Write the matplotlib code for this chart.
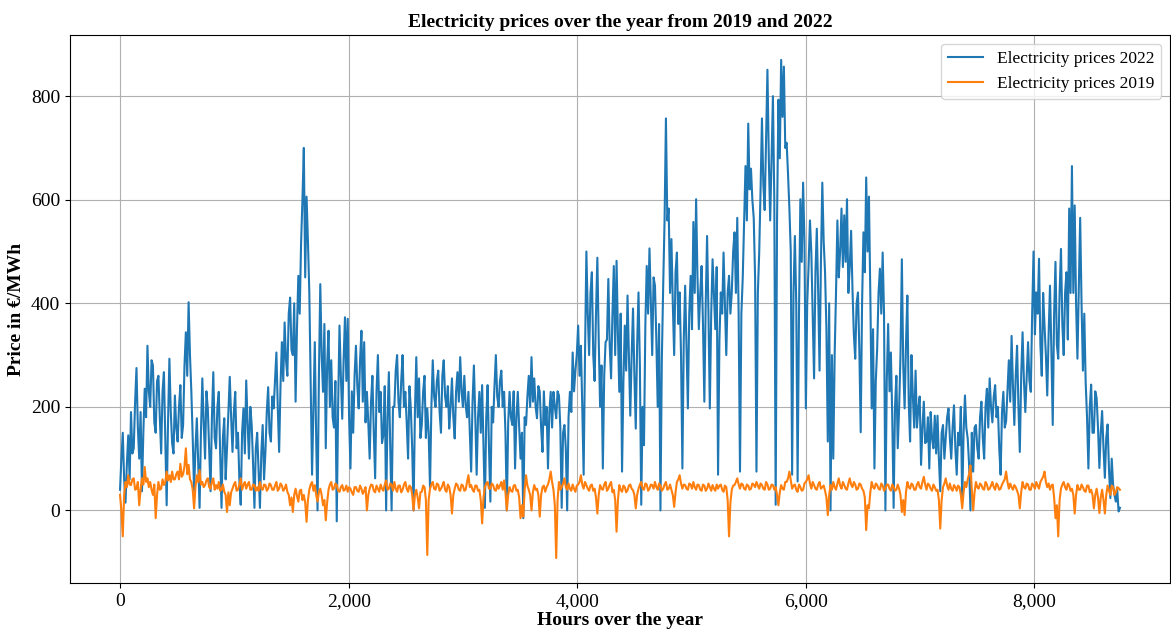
import numpy as np
import matplotlib
matplotlib.use("Agg")
import matplotlib.pyplot as plt
from matplotlib.ticker import FuncFormatter

# Values: one value at the start of each day
# (hour 24*d) and one at mid-day (hour 24*d + 12).
price_2022_day = [
    40, 150, 15, 145, 190, 120, 275, 100, 37, 235,
    318, 200, 280, 150, 260, 110, 267, 10, 293, 130,
    222, 133, 242, 165, 344, 402, 229, 37, 178, 5,
    255, 100, 197, 37, 267, 120, 229, 5, 178, 120,
    258, 113, 229, 150, 11, 197, 251, 100, 165, 5,
    150, 5, 165, 113, 238, 133, 197, 305, 113, 325,
    363, 260, 411, 300, 210, 453, 517, 700, 606, 421,
    69, 325, 0, 437, 229, 120, 347, 290, 160, -21,
    357, 177, 373, 370, 81, 150, 318, 197, 347, 325,
    229, 100, 260, 62, 300, 229, 146, 0, 267, 0,
    200, 300, 180, 300, 229, 100, 197, 0, 296, 255,
    165, 260, 197, 43, 290, 200, 270, 150, 290, 200,
    158, 255, 139, 267, 296, 200, 203, 229, 75, 280,
    69, 229, 242, 5, 242, 17, 170, 300, 200, 270,
    229, 0, 229, 165, 81, 229, 100, -15, 165, 260,
    296, 255, 178, 229, 113, 165, 81, 229, 229, 178,
    222, 5, 165, 0, 229, 305, 270, 357, 318, 69,
    500, 300, 460, 250, 488, 200, 81, 325, 447, 255,
    472, 482, 229, 75, 357, 415, 183, 390, 158, 421,
    11, 126, 472, 506, 300, 434, 200, 0, 434, 757,
    583, 524, 300, 498, 421, 81, 434, 197, 453, 557,
    601, 350, 472, 210, 530, 197, 485, 350, 69, 421,
    498, 300, 453, 421, 537, 565, 75, 450, 665, 747,
    660, 565, 75, 498, 757, 580, 851, 560, 800, 11,
    793, 870, 857, 710, 583, 69, 530, 56, 601, 633,
    197, 472, 498, 255, 544, 270, 633, 460, 133, 0,
    100, 421, 450, 583, 570, 601, 470, 427, 293, 421,
    151, 537, 643, 606, 197, 81, 313, 467, 498, 0,
    360, 305, 5, 260, 197, 485, 197, 415, 133, 222,
    270, 197, 88, 210, 133, 81, 139, 183, 183, 37,
    165, 139, 197, 100, 203, 69, 126, 17, 222, 139,
    0, 75, 165, 100, 210, 100, 235, 255, 170, 242,
    200, 69, 229, 172, 290, 337, 165, 318, 113, 344,
    190, 325, 229, 500, 421, 486, 260, 357, 222, 434,
    165, 480, 293, 505, 300, 460, 583, 665, 589, 293,
    565, 270, 248, 81, 243, 150, 217, 82, 192, 63,
    166, 24, 50, 17, -2,
]

price_2022_noon = [
    100, 60, 90, 60, 110, 210, 160, 190, 150, 180,
    230, 290, 170, 250, 180, 230, 140, 170, 190, 110,
    160, 200, 140, 280, 260, 300, 140, 120, 90, 150,
    170, 230, 120, 180, 140, 200, 110, 140, 60, 190,
    180, 190, 120, 60, 150, 110, 170, 200, 90, 120,
    80, 110, 60, 190, 150, 220, 250, 200, 240, 250,
    290, 380, 310, 400, 350, 380, 600, 450, 520, 250,
    200, 140, 260, 300, 360, 280, 200, 180, 250, 200,
    260, 290, 250, 180, 230, 260, 240, 290, 210, 170,
    170, 210, 150, 230, 190, 130, 240, 180, 120, 200,
    270, 210, 250, 200, 170, 240, 120, 190, 180, 140,
    230, 140, 150, 200, 220, 250, 190, 260, 220, 240,
    200, 180, 230, 210, 230, 260, 180, 150, 210, 180,
    180, 150, 120, 180, 120, 200, 240, 220, 250, 200,
    150, 170, 180, 230, 180, 160, 150, 180, 220, 200,
    210, 200, 240, 160, 230, 200, 190, 160, 200, 230,
    160, 150, 120, 180, 190, 230, 300, 260, 200, 300,
    380, 420, 300, 380, 330, 280, 260, 330, 320, 380,
    300, 340, 380, 250, 270, 300, 300, 260, 320, 280,
    200, 360, 380, 400, 450, 330, 360, 290, 560, 560,
    420, 400, 460, 360, 300, 330, 320, 380, 350, 420,
    450, 420, 360, 400, 380, 380, 420, 470, 330, 380,
    400, 420, 380, 500, 420, 380, 380, 560, 560, 620,
    600, 450, 420, 620, 630, 720, 680, 680, 600, 560,
    680, 760, 700, 650, 500, 420, 400, 380, 480, 520,
    400, 560, 380, 460, 420, 480, 520, 350, 400, 300,
    300, 560, 500, 470, 480, 420, 540, 340, 400, 310,
    400, 460, 500, 420, 350, 250, 420, 380, 380, 250,
    230, 180, 200, 120, 300, 280, 320, 210, 300, 160,
    160, 220, 160, 130, 180, 190, 120, 110, 100, 150,
    100, 180, 140, 160, 120, 150, 200, 150, 160, 90,
    150, 160, 120, 180, 140, 200, 160, 200, 220, 180,
    120, 190, 160, 230, 210, 240, 260, 200, 260, 250,
    260, 250, 380, 340, 380, 320, 420, 300, 340, 310,
    380, 320, 420, 360, 420, 330, 420, 420, 400, 430,
    400, 380, 180, 200, 150, 230, 160, 150, 120, 140,
    80, 100, 30, 40, 5,
]

price_2019_day = [
    30, -50, 55, 68, 49, 62, 42, 10, 62, 84,
    62, 55, 30, -15, 55, 42, 49, 75, 68, 75,
    60, 75, 90, 70, 120, 88, 55, 4, 68, 78,
    55, 49, 62, 42, 62, 49, 55, 40, 36, -3,
    10, 42, 55, 40, 62, 49, 42, 55, 40, 49,
    45, 55, 40, 49, 42, 49, 40, 55, 42, 48,
    42, 36, 10, -3, 42, 17, 40, 30, -22, 40,
    55, 49, 17, 42, 10, -19, 40, 55, 42, 49,
    36, 49, 40, 36, 42, 30, 45, 36, 42, 38,
    0, 42, 49, 35, 42, 50, 38, 58, 42, 50,
    55, 36, 48, 40, 55, 36, 45, 0, 40, 4,
    36, 45, -86, 42, 55, 40, 50, 42, 55, 36,
    45, -6, 42, 49, 38, 48, 40, 68, 49, 36,
    48, 40, -25, 45, 55, 42, 49, 38, 42, 55,
    58, 0, 45, 36, 49, 40, -15, -12, 68, 40,
    0, 49, 42, -12, 45, 36, 50, 75, 40, -92,
    55, 45, 62, 40, 42, 50, 36, 50, 68, 42,
    49, 38, 50, 42, -6, 49, 40, 55, 42, 55,
    40, -41, 49, 36, 45, 39, 50, 39, 4, 42,
    55, 40, 50, 42, 49, 55, 40, 48, 42, 55,
    42, 40, 7, 55, 68, 42, 49, 40, 50, 55,
    40, 49, 38, 48, 42, 45, 49, 38, 42, 50,
    36, 45, -50, 40, 49, 62, 42, 50, 40, 48,
    42, 50, 55, 42, 49, 40, 50, 42, 49, 45,
    10, 49, 40, 55, 75, 42, 50, 36, 45, 40,
    55, 68, 42, 49, 40, 55, 45, 38, -9, 49,
    55, 40, 62, 42, 49, 40, 62, 45, 50, 42,
    50, 38, -38, 4, 55, 42, 49, 40, 48, 42,
    50, 38, 45, 40, 42, -3, -9, 55, 42, 49,
    40, 55, 42, 65, 40, 49, 38, 45, 40, -35,
    45, 62, 40, 42, 49, 38, 45, 4, 55, 60,
    87, 0, 55, 42, 49, 40, 50, 42, 55, 40,
    48, 42, 55, 75, 42, 45, 49, 38, 4, 55,
    42, 50, 40, 48, 55, 42, 60, 75, 45, 40,
    50, -15, -50, 42, 55, 40, 48, 42, -6, 49,
    40, 45, 36, 48, 40, 4, 42, -5, 40, -6,
    48, 30, 45, 35, 43,
]

price_2019_noon = [
    0, 30, 45, 50, 60, 40, 55, 40, 50, 55,
    45, 40, 50, 30, 40, 60, 55, 58, 55, 60,
    70, 60, 65, 85, 70, 60, 40, 45, 55, 50,
    45, 58, 45, 55, 40, 42, 38, 50, 30, 35,
    35, 50, 38, 50, 40, 55, 50, 40, 50, 38,
    38, 42, 50, 38, 52, 40, 48, 38, 52, 38,
    50, 30, 25, 30, 28, 38, 20, 15, 20, 50,
    38, 30, 35, 30, 20, 15, 50, 40, 52, 38,
    45, 38, 48, 45, 35, 45, 38, 48, 32, 45,
    30, 50, 38, 48, 36, 42, 50, 40, 52, 38,
    42, 48, 35, 50, 42, 48, 30, 30, 25, 35,
    48, 20, 20, 50, 42, 52, 38, 48, 40, 50,
    30, 30, 52, 40, 50, 38, 55, 45, 40, 48,
    38, 20, 25, 52, 42, 52, 40, 50, 48, 40,
    35, 30, 38, 48, 38, 25, 10, 40, 48, 30,
    35, 40, 30, 30, 48, 45, 60, 55, 10, 20,
    40, 52, 45, 52, 38, 42, 48, 55, 50, 55,
    42, 48, 38, 25, 30, 42, 50, 38, 50, 35,
    20, 20, 40, 48, 35, 48, 42, 30, 30, 50,
    42, 52, 38, 50, 42, 45, 52, 38, 50, 40,
    50, 30, 35, 60, 52, 50, 42, 52, 42, 45,
    50, 40, 50, 38, 52, 38, 42, 50, 48, 40,
    48, 20, 15, 48, 55, 50, 52, 42, 50, 40,
    52, 45, 48, 52, 42, 55, 40, 50, 40, 30,
    35, 42, 55, 62, 58, 48, 40, 50, 38, 52,
    60, 52, 55, 42, 50, 42, 48, 25, 30, 40,
    45, 52, 48, 55, 42, 52, 50, 55, 40, 52,
    42, 25, 10, 35, 45, 52, 42, 52, 38, 50,
    42, 50, 38, 50, 30, 20, 35, 45, 52, 40,
    50, 45, 55, 50, 52, 42, 50, 38, 20, 20,
    52, 48, 52, 38, 45, 48, 30, 35, 45, 70,
    40, 35, 45, 52, 42, 55, 40, 48, 45, 52,
    40, 50, 60, 55, 52, 40, 45, 30, 35, 45,
    52, 40, 52, 42, 48, 55, 65, 55, 52, 48,
    25, 10, 20, 50, 45, 52, 38, 30, 30, 40,
    50, 38, 48, 35, 30, 30, 25, 25, 20, 30,
    38, 48, 30, 45, 40,
]

step_hours = 12


def interleave(day_vals, noon_vals):
    vals = np.column_stack([day_vals, noon_vals]).ravel()
    hours = np.arange(len(vals)) * step_hours
    return hours, vals


hours_2022, price_2022 = interleave(price_2022_day, price_2022_noon)
hours_2019, price_2019 = interleave(price_2019_day, price_2019_noon)

plt.rcParams['font.family'] = ['Liberation Serif', 'DejaVu Serif']

fig = plt.figure(figsize=(11.71, 6.35), dpi=100)
ax = fig.add_axes([0.0598, 0.0819, 0.9393, 0.863])

ax.plot(hours_2022, price_2022, color='#1f77b4', linewidth=1.5, label='Electricity prices 2022')
ax.plot(hours_2019, price_2019, color='#ff7f0e', linewidth=1.5, label='Electricity prices 2019')

ax.set_title('Electricity prices over the year from 2019 and 2022', fontsize=14, fontweight='bold')
ax.set_xlabel('Hours over the year', fontsize=14, fontweight='bold', labelpad=2)
ax.set_ylabel('Price in €/MWh', fontsize=14, fontweight='bold')
ax.tick_params(labelsize=14)
ax.xaxis.set_major_formatter(FuncFormatter(lambda v, p: f'{v:,.0f}'))
ax.grid(True, color='#b0b0b0', linewidth=0.8)
ax.legend(loc='upper right', fontsize=12.5)

fig.savefig('out.png', dpi=100)
